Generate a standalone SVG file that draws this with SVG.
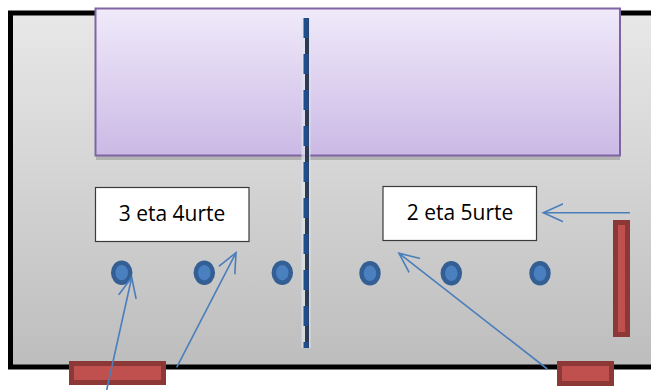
<svg xmlns="http://www.w3.org/2000/svg" width="651" height="390" viewBox="0 0 651 390">
<defs>
<linearGradient id="gray" x1="0" y1="0" x2="0" y2="1"><stop offset="0" stop-color="#e8e8e8"/><stop offset="1" stop-color="#bdbdbd"/></linearGradient>
<linearGradient id="purp" x1="0" y1="0" x2="0" y2="1"><stop offset="0" stop-color="#f0eafa"/><stop offset="1" stop-color="#cbb9e5"/></linearGradient>
<marker id="ah" markerWidth="24" markerHeight="24" refX="20" refY="12" orient="auto" markerUnits="userSpaceOnUse"><polyline points="0,3 20,12 0,21" fill="none" stroke="#4a7ebb" stroke-width="1.6"/></marker>
<style>
.bar{fill:#c0504d;stroke:#8c3836;stroke-width:5}
.box{fill:#ffffff;stroke:#3a3a3a;stroke-width:1.2}
.lbl{font-family:"Open Sans","Liberation Sans",sans-serif;font-size:21px;fill:#000;text-anchor:middle}
.dot{fill:#4a80c0;stroke:#335f94;stroke-width:4.5}
.arr{stroke:#4a7ebb;stroke-width:1.6;fill:none;marker-end:url(#ah)}
</style>
</defs>
<g id="frame">
<rect x="10.5" y="13" width="700" height="354" fill="url(#gray)" stroke="#000" stroke-width="5"/>
</g>
<g id="stage">
<rect x="96" y="156" width="524" height="4" fill="#9a9a9a" opacity="0.6"/>
<rect x="95.5" y="8.5" width="524.5" height="147" fill="url(#purp)" stroke="#8064a2" stroke-width="2"/>
</g>
<g id="divider">
<line x1="306" y1="18" x2="306" y2="348" stroke="#dfe6ee" stroke-width="9" opacity="0.7"/>
<line x1="307" y1="18" x2="307" y2="348" stroke="#2e3a52" stroke-width="4"/>
<line x1="306" y1="18" x2="306" y2="348" stroke="#1f4e8c" stroke-width="5" stroke-dasharray="20 16"/>
</g>
<g id="box1">
<rect class="box" x="95.5" y="187.5" width="153.5" height="54"/>
<text class="lbl" x="172" y="221">3 eta 4urte</text>
</g>
<g id="box2">
<rect class="box" x="383" y="186.5" width="153.5" height="54"/>
<text class="lbl" x="460" y="220">2 eta 5urte</text>
</g>
<g id="dots">
<ellipse class="dot" cx="121.7" cy="272.7" rx="8.5" ry="10"/>
<ellipse class="dot" cx="204.3" cy="272.7" rx="8.5" ry="10"/>
<ellipse class="dot" cx="282.3" cy="272.7" rx="8.5" ry="10"/>
<ellipse class="dot" cx="370" cy="273.3" rx="8.5" ry="10"/>
<ellipse class="dot" cx="451.3" cy="273.3" rx="8.5" ry="10"/>
<ellipse class="dot" cx="540" cy="273.3" rx="8.5" ry="10"/>
</g>
<g id="bar-left"><rect class="bar" x="71.5" y="363.5" width="92" height="19"/></g>
<g id="bar-right"><rect class="bar" x="559.5" y="363.5" width="52" height="20"/></g>
<g id="bar-side"><rect class="bar" x="615.5" y="222.5" width="12" height="112"/></g>
<g id="connectors">
<line class="arr" x1="106.7" y1="390" x2="131.7" y2="277.5"/>
<line class="arr" x1="176.7" y1="367.3" x2="236" y2="252.7"/>
<line class="arr" x1="630" y1="212.7" x2="543.3" y2="212.7"/>
<line class="arr" x1="547.3" y1="369" x2="399" y2="253.3"/>
</g>
</svg>
